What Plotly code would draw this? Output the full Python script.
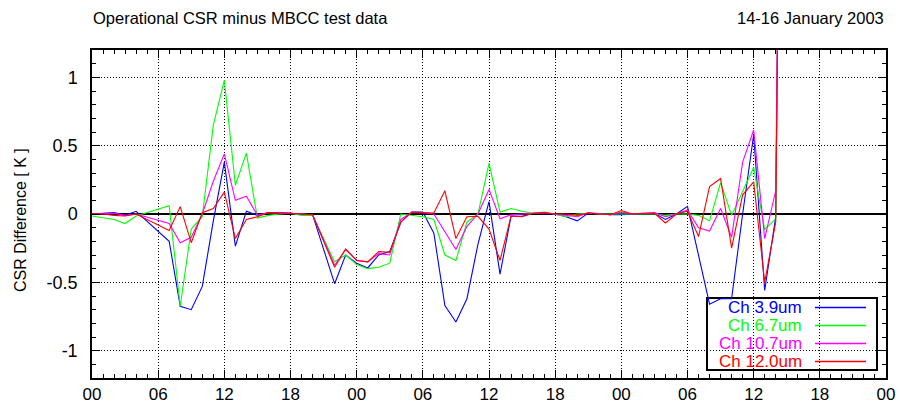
import plotly.graph_objects as go

# ---- data (hourly, 0 = 00 UTC 14 Jan 2003) ----
hours = list(range(64))
ch39 = [0.0, 0.005, 0.01, -0.01, 0.02, None, None, -0.2, -0.675, -0.70,
        -0.53, -0.05, 0.38, -0.235, 0.02, -0.01, 0.01, 0.01, 0.005, 0.0,
        -0.005, None, -0.51, -0.30, -0.36, -0.395, -0.30, -0.275, -0.06, 0.015,
        0.015, -0.14, -0.67, -0.79, -0.62, -0.22, 0.09, -0.44, -0.015, -0.017,
        0.005, 0.005, 0.0, -0.02, -0.05, 0.007, 0.0, -0.005, -0.005, 0.0,
        0.005, 0.005, -0.04, 0.0, 0.056, -0.30, -0.66, -0.62, -0.62, 0.0,
        0.58, -0.56, -0.02, 8.0]
ch67 = [-0.015, -0.025, -0.04, -0.07, -0.015, None, None, 0.06, -0.675, -0.11,
        -0.02, 0.65, 0.98, 0.21, 0.445, -0.03, -0.01, 0.0, 0.005, -0.01,
        -0.01, None, -0.35, -0.30, -0.37, -0.40, -0.39, -0.36, 0.0, -0.01,
        -0.02, -0.04, -0.30, -0.34, -0.06, 0.0, 0.37, 0.015, 0.04, 0.02,
        0.005, 0.015, 0.0, -0.02, 0.0, 0.005, 0.0, 0.0, 0.0, 0.0,
        0.0, 0.0, -0.01, 0.0, 0.0, -0.01, -0.05, 0.23, -0.01, 0.17,
        0.34, -0.115, -0.035, 8.0]
ch107 = [0.0, 0.0, 0.005, -0.01, 0.0, None, None, -0.07, -0.21, -0.17,
         0.0, 0.24, 0.44, 0.10, 0.13, -0.01, 0.01, 0.01, 0.005, 0.0,
         -0.005, None, -0.375, -0.26, -0.34, -0.35, -0.29, -0.30, -0.04, 0.01,
         0.01, 0.0, -0.13, -0.26, -0.09, 0.0, 0.18, -0.035, -0.005, 0.0,
         0.005, 0.01, 0.0, -0.01, -0.02, 0.01, 0.0, -0.005, 0.015, 0.0,
         0.005, 0.01, -0.02, 0.0, 0.03, -0.10, -0.125, 0.04, -0.17, 0.38,
         0.615, -0.18, 0.17, 8.0]
ch120 = [0.0, 0.0, -0.01, -0.015, 0.0, None, None, -0.12, 0.054, -0.21,
         0.01, 0.04, 0.16, -0.18, -0.04, -0.02, 0.01, 0.01, 0.005, 0.0,
         -0.005, None, -0.39, -0.255, -0.34, -0.35, -0.275, -0.28, -0.06, 0.015,
         0.01, 0.007, 0.17, -0.18, -0.02, -0.017, -0.11, -0.34, -0.015, -0.02,
         0.005, 0.01, 0.0, 0.0, -0.01, 0.007, 0.0, -0.005, 0.025, 0.0,
         0.005, 0.005, -0.066, 0.0, 0.02, -0.165, 0.20, 0.26, -0.25, 0.14,
         0.235, -0.50, -0.06, 8.0]

series_names = ["Ch 3.9um", "Ch 6.7um", "Ch 10.7um", "Ch 12.0um"]
series_values = [ch39, ch67, ch107, ch120]
colors = ["#0000ff", "#00ff00", "#ff00ff", "#ff0000"]

x_tick_vals = list(range(0, 73, 6))
x_tick_text = ["00", "06", "12", "18"] * 3 + ["00"]
y_tick_vals = [-1, -0.5, 0, 0.5, 1]
y_tick_text = ["-1", "-0.5", "0", "0.5", "1"]

title_left = "Operational CSR minus MBCC test data"
title_right = "14-16 January 2003"
y_title = "CSR Difference [ K ]"

FONT = "Liberation Sans, Arial, Helvetica, sans-serif"

fig = go.Figure()
for name, vals, col in zip(series_names, series_values, colors):
    fig.add_trace(go.Scatter(x=hours, y=vals, mode="lines", name=name,
                             connectgaps=True, showlegend=False,
                             line=dict(color=col, width=1.1)))

axis_common = dict(
    showline=True, linecolor="black", linewidth=1.5, mirror="allticks",
    ticks="inside", ticklen=8, tickwidth=1, tickcolor="black",
    showgrid=True, gridcolor="black", gridwidth=1, griddash="1px,2px",
    automargin=False,
)

fig.update_xaxes(range=[0, 72], tickvals=x_tick_vals, ticktext=x_tick_text,
                 zeroline=False, ticklabelstandoff=0,
                 tickfont=dict(family=FONT, size=17, color="black"),
                 minor=dict(ticks="inside", ticklen=4, dtick=1, tick0=0,
                            tickcolor="black", showgrid=False),
                 **axis_common)
fig.update_yaxes(range=[-1.2, 1.2], tickvals=y_tick_vals, ticktext=y_tick_text,
                 zeroline=True, zerolinecolor="black", zerolinewidth=1.5,
                 ticklabelstandoff=9,
                 tickfont=dict(family=FONT, size=18, color="black"),
                 minor=dict(ticks="inside", ticklen=4, dtick=0.1, tick0=0,
                            tickcolor="black", showgrid=False),
                 **axis_common)

# plot-area pixel geometry helpers (paper coordinates)
L, R, T, B = 92, 886, 50, 378
def px(x):
    return (x - L) / (R - L)
def py(y):
    return (B - y) / (B - T)

shapes = [dict(type="rect", xref="paper", yref="paper",
               x0=px(707), x1=px(877), y0=py(370), y1=py(298),
               line=dict(color="black", width=2), fillcolor="white",
               layer="between")]
annotations = [
    dict(text=title_left, xref="paper", yref="paper", x=px(91), y=py(18),
         xanchor="left", yanchor="middle", showarrow=False,
         font=dict(family=FONT, size=16.5, color="black")),
    dict(text=title_right, xref="paper", yref="paper", x=px(886), y=py(18),
         xanchor="right", yanchor="middle", showarrow=False,
         font=dict(family=FONT, size=16.5, color="black")),
    dict(text=y_title, xref="paper", yref="paper", x=px(20), y=py(220),
         xanchor="center", yanchor="middle", textangle=-90, showarrow=False,
         font=dict(family=FONT, size=16, color="black")),
]
row_y = [307, 325, 343, 361]
for name, col, ry in zip(series_names, colors, row_y):
    annotations.append(dict(text=name, xref="paper", yref="paper",
                            x=px(804), y=py(ry), xanchor="right", yanchor="middle",
                            showarrow=False,
                            font=dict(family=FONT, size=17, color=col)))
    shapes.append(dict(type="line", xref="paper", yref="paper",
                       x0=px(815), x1=px(866), y0=py(ry + 0.5), y1=py(ry + 0.5),
                       line=dict(color=col, width=1.5), layer="above"))

fig.update_layout(width=900, height=406,
                  margin=dict(l=L, r=900 - R, t=T, b=406 - B, autoexpand=False),
                  paper_bgcolor="white", plot_bgcolor="white",
                  showlegend=False, shapes=shapes, annotations=annotations)

fig.write_html("out.html")
